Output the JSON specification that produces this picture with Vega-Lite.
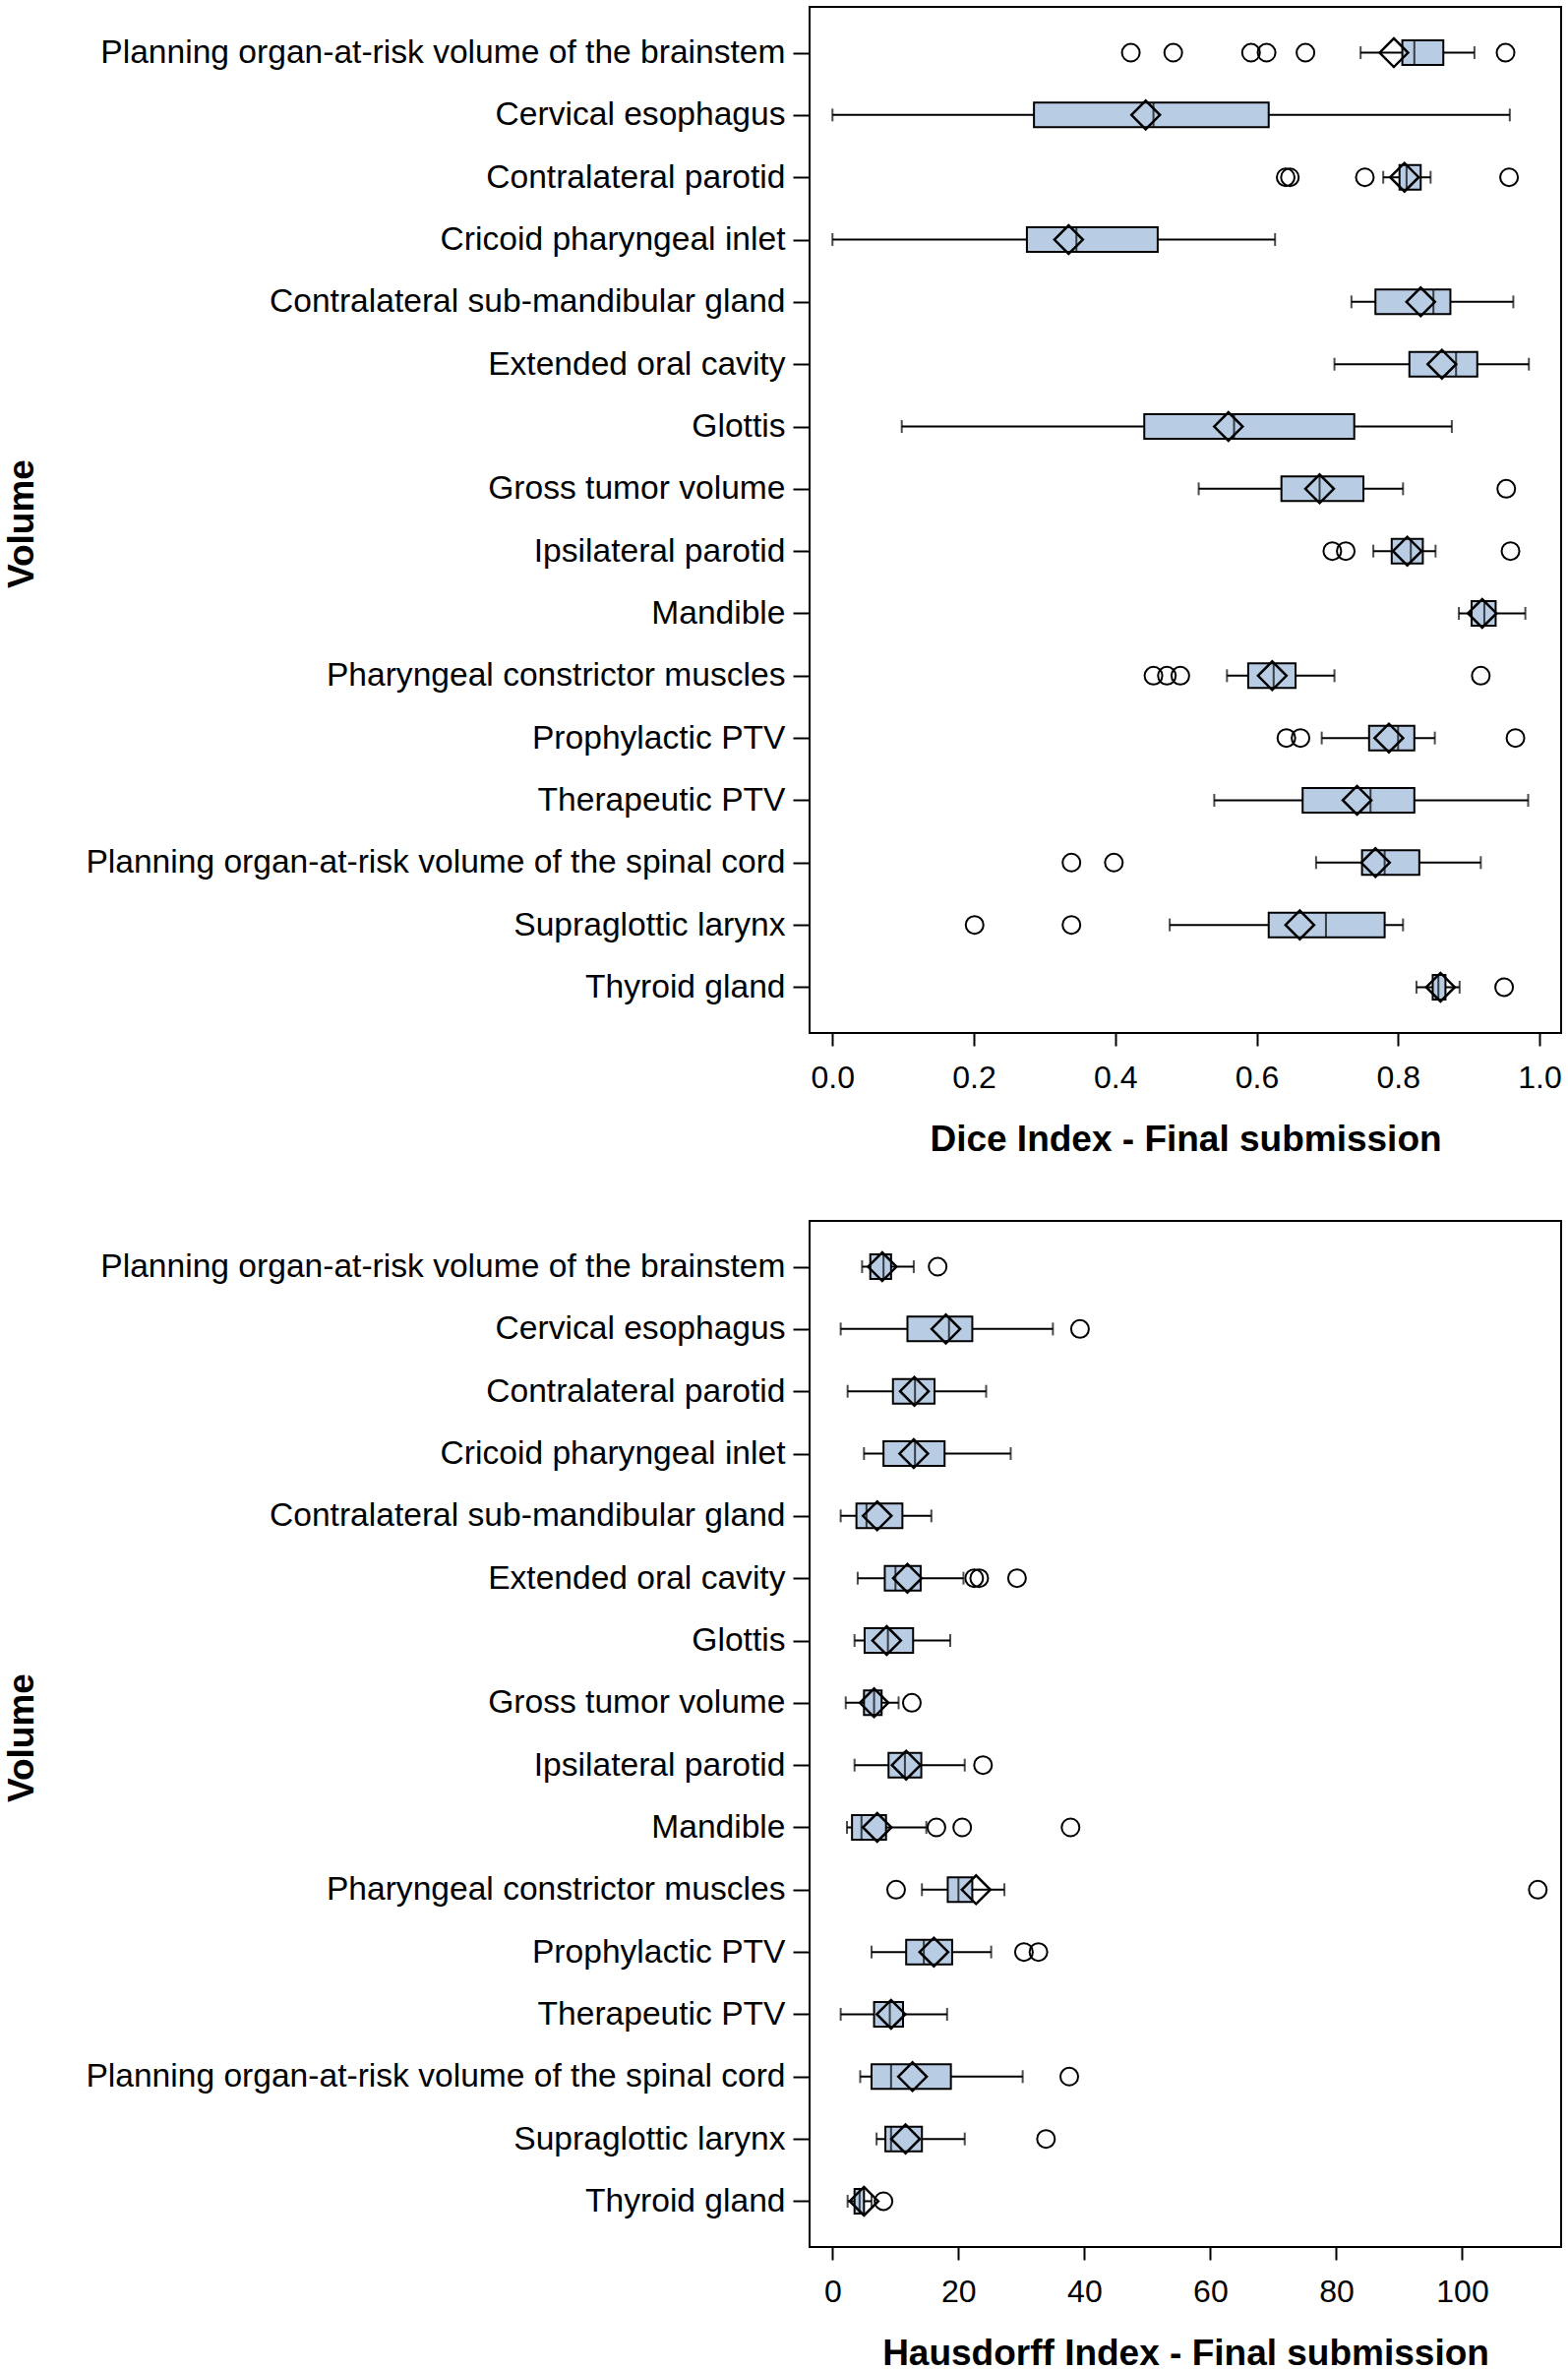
{
  "$schema": "https://vega.github.io/schema/vega-lite/v6.json",
  "background": "white",
  "padding": {"left": 2, "top": 6, "right": 5, "bottom": 0},
  "spacing": 63,
  "config": {
    "font": "Liberation Sans",
    "view": {"stroke": "black", "strokeWidth": 2},
    "axis": {
      "domain": false, "grid": false,
      "tickColor": "black", "tickWidth": 2,
      "labelColor": "black", "titleColor": "black",
      "labelFont": "Liberation Sans", "titleFont": "Liberation Sans",
      "labelFontSize": 33.6, "titleFontSize": 37, "titleFontWeight": "bold",
      "labelOverlap": false, "labelFlush": false
    },
    "axisX": {"tickSize": 13, "labelPadding": 17, "titlePadding": 29, "labelFontSize": 32},
    "axisY": {"tickSize": 17, "labelPadding": 8, "labelLimit": 1000}
  },
  "datasets": {
    "dice": [
      {"name": "Planning organ-at-risk volume of the brainstem", "lo": 0.747, "q1": 0.806, "med": 0.823, "q3": 0.864, "hi": 0.908, "mean": 0.794},
      {"name": "Cervical esophagus", "lo": 0.0, "q1": 0.285, "med": 0.454, "q3": 0.617, "hi": 0.958, "mean": 0.443},
      {"name": "Contralateral parotid", "lo": 0.779, "q1": 0.802, "med": 0.812, "q3": 0.832, "hi": 0.846, "mean": 0.809},
      {"name": "Cricoid pharyngeal inlet", "lo": 0.0, "q1": 0.275, "med": 0.345, "q3": 0.46, "hi": 0.626, "mean": 0.334},
      {"name": "Contralateral sub-mandibular gland", "lo": 0.734, "q1": 0.768, "med": 0.85, "q3": 0.874, "hi": 0.963, "mean": 0.832},
      {"name": "Extended oral cavity", "lo": 0.71, "q1": 0.816, "med": 0.882, "q3": 0.912, "hi": 0.985, "mean": 0.862},
      {"name": "Glottis", "lo": 0.098, "q1": 0.441, "med": 0.568, "q3": 0.738, "hi": 0.876, "mean": 0.56},
      {"name": "Gross tumor volume", "lo": 0.518, "q1": 0.635, "med": 0.689, "q3": 0.751, "hi": 0.807, "mean": 0.689},
      {"name": "Ipsilateral parotid", "lo": 0.765, "q1": 0.791, "med": 0.818, "q3": 0.835, "hi": 0.853, "mean": 0.813},
      {"name": "Mandible", "lo": 0.886, "q1": 0.904, "med": 0.922, "q3": 0.938, "hi": 0.98, "mean": 0.919},
      {"name": "Pharyngeal constrictor muscles", "lo": 0.558, "q1": 0.588, "med": 0.624, "q3": 0.655, "hi": 0.71, "mean": 0.622},
      {"name": "Prophylactic PTV", "lo": 0.692, "q1": 0.759, "med": 0.8, "q3": 0.823, "hi": 0.852, "mean": 0.787},
      {"name": "Therapeutic PTV", "lo": 0.54, "q1": 0.665, "med": 0.761, "q3": 0.823, "hi": 0.984, "mean": 0.742},
      {"name": "Planning organ-at-risk volume of the spinal cord", "lo": 0.684, "q1": 0.749, "med": 0.781, "q3": 0.83, "hi": 0.917, "mean": 0.768},
      {"name": "Supraglottic larynx", "lo": 0.477, "q1": 0.617, "med": 0.698, "q3": 0.781, "hi": 0.807, "mean": 0.661},
      {"name": "Thyroid gland", "lo": 0.826, "q1": 0.849, "med": 0.857, "q3": 0.867, "hi": 0.887, "mean": 0.86}
    ],
    "diceOut": [
      {"name": "Planning organ-at-risk volume of the brainstem", "v": 0.422},
      {"name": "Planning organ-at-risk volume of the brainstem", "v": 0.482},
      {"name": "Planning organ-at-risk volume of the brainstem", "v": 0.592},
      {"name": "Planning organ-at-risk volume of the brainstem", "v": 0.614},
      {"name": "Planning organ-at-risk volume of the brainstem", "v": 0.669},
      {"name": "Planning organ-at-risk volume of the brainstem", "v": 0.952},
      {"name": "Contralateral parotid", "v": 0.641},
      {"name": "Contralateral parotid", "v": 0.647},
      {"name": "Contralateral parotid", "v": 0.753},
      {"name": "Contralateral parotid", "v": 0.957},
      {"name": "Gross tumor volume", "v": 0.953},
      {"name": "Ipsilateral parotid", "v": 0.707},
      {"name": "Ipsilateral parotid", "v": 0.726},
      {"name": "Ipsilateral parotid", "v": 0.959},
      {"name": "Pharyngeal constrictor muscles", "v": 0.454},
      {"name": "Pharyngeal constrictor muscles", "v": 0.473},
      {"name": "Pharyngeal constrictor muscles", "v": 0.492},
      {"name": "Pharyngeal constrictor muscles", "v": 0.917},
      {"name": "Prophylactic PTV", "v": 0.642},
      {"name": "Prophylactic PTV", "v": 0.662},
      {"name": "Prophylactic PTV", "v": 0.966},
      {"name": "Planning organ-at-risk volume of the spinal cord", "v": 0.338},
      {"name": "Planning organ-at-risk volume of the spinal cord", "v": 0.398},
      {"name": "Supraglottic larynx", "v": 0.201},
      {"name": "Supraglottic larynx", "v": 0.338},
      {"name": "Thyroid gland", "v": 0.95}
    ],
    "haus": [
      {"name": "Planning organ-at-risk volume of the brainstem", "lo": 4.7, "q1": 6.0, "med": 8.1, "q3": 9.3, "hi": 12.9, "mean": 7.9},
      {"name": "Cervical esophagus", "lo": 1.3, "q1": 11.9, "med": 18.5, "q3": 22.2, "hi": 35.0, "mean": 18.0},
      {"name": "Contralateral parotid", "lo": 2.4, "q1": 9.6, "med": 13.1, "q3": 16.2, "hi": 24.4, "mean": 13.0},
      {"name": "Cricoid pharyngeal inlet", "lo": 5.0, "q1": 8.1, "med": 13.1, "q3": 17.8, "hi": 28.3, "mean": 12.9},
      {"name": "Contralateral sub-mandibular gland", "lo": 1.3, "q1": 3.8, "med": 5.4, "q3": 11.1, "hi": 15.7, "mean": 7.1},
      {"name": "Extended oral cavity", "lo": 4.0, "q1": 8.3, "med": 10.0, "q3": 14.0, "hi": 20.8, "mean": 11.9},
      {"name": "Glottis", "lo": 3.5, "q1": 5.1, "med": 8.8, "q3": 12.8, "hi": 18.7, "mean": 8.6},
      {"name": "Gross tumor volume", "lo": 2.1, "q1": 5.0, "med": 6.6, "q3": 7.8, "hi": 10.5, "mean": 6.6},
      {"name": "Ipsilateral parotid", "lo": 3.5, "q1": 8.9, "med": 11.5, "q3": 14.1, "hi": 21.0, "mean": 11.7},
      {"name": "Mandible", "lo": 2.3, "q1": 3.1, "med": 4.6, "q3": 8.5, "hi": 14.9, "mean": 7.1},
      {"name": "Pharyngeal constrictor muscles", "lo": 14.2, "q1": 18.3, "med": 20.0, "q3": 22.2, "hi": 27.3, "mean": 22.8},
      {"name": "Prophylactic PTV", "lo": 6.2, "q1": 11.7, "med": 14.5, "q3": 19.0, "hi": 25.2, "mean": 16.1},
      {"name": "Therapeutic PTV", "lo": 1.3, "q1": 6.6, "med": 9.1, "q3": 11.2, "hi": 18.2, "mean": 9.3},
      {"name": "Planning organ-at-risk volume of the spinal cord", "lo": 4.4, "q1": 6.2, "med": 9.3, "q3": 18.8, "hi": 30.2, "mean": 12.7},
      {"name": "Supraglottic larynx", "lo": 7.0, "q1": 8.4, "med": 9.3, "q3": 14.2, "hi": 21.0, "mean": 11.6},
      {"name": "Thyroid gland", "lo": 2.4, "q1": 3.5, "med": 4.3, "q3": 5.0, "hi": 6.2, "mean": 5.0}
    ],
    "hausOut": [
      {"name": "Planning organ-at-risk volume of the brainstem", "v": 16.7},
      {"name": "Cervical esophagus", "v": 39.3},
      {"name": "Extended oral cavity", "v": 22.5},
      {"name": "Extended oral cavity", "v": 23.3},
      {"name": "Extended oral cavity", "v": 29.3},
      {"name": "Gross tumor volume", "v": 12.6},
      {"name": "Ipsilateral parotid", "v": 23.9},
      {"name": "Mandible", "v": 16.5},
      {"name": "Mandible", "v": 20.6},
      {"name": "Mandible", "v": 37.8},
      {"name": "Pharyngeal constrictor muscles", "v": 10.1},
      {"name": "Pharyngeal constrictor muscles", "v": 112.0},
      {"name": "Prophylactic PTV", "v": 30.4},
      {"name": "Prophylactic PTV", "v": 32.7},
      {"name": "Planning organ-at-risk volume of the spinal cord", "v": 37.6},
      {"name": "Supraglottic larynx", "v": 33.9},
      {"name": "Thyroid gland", "v": 8.1}
    ]
  },
  "vconcat": [
    {
      "width": 764, "height": 1043,
      "encoding": {
        "y": {"field": "name", "type": "nominal", "title": "Volume",
          "axis": {"labelLimit": 1000, "titleX": -801, "titleY": 525, "titleAngle": 270, "titleAlign": "center", "titleBaseline": "middle"},
          "scale": {"type": "point", "padding": 0.735, "domain": ["Planning organ-at-risk volume of the brainstem","Cervical esophagus","Contralateral parotid","Cricoid pharyngeal inlet","Contralateral sub-mandibular gland","Extended oral cavity","Glottis","Gross tumor volume","Ipsilateral parotid","Mandible","Pharyngeal constrictor muscles","Prophylactic PTV","Therapeutic PTV","Planning organ-at-risk volume of the spinal cord","Supraglottic larynx","Thyroid gland"]}}
      },
      "layer": [
        {"data": {"name": "dice"}, "mark": {"type": "rule", "color": "black", "strokeWidth": 2},
          "encoding": {"x": {"field": "lo", "type": "quantitative", "title": "Dice Index - Final submission", "scale": {"domain": [-0.0324, 1.0306], "nice": false, "zero": false}, "axis": {"values": [0, 0.2, 0.4, 0.6, 0.8, 1.0], "format": ".1f"}}, "x2": {"field": "hi"}}},
        {"data": {"name": "dice"}, "mark": {"type": "tick", "color": "black", "thickness": 2, "size": 13, "orient": "vertical"},
          "encoding": {"x": {"field": "lo", "type": "quantitative", "title": "Dice Index - Final submission", "scale": {"domain": [-0.0324, 1.0306], "nice": false, "zero": false}}}},
        {"data": {"name": "dice"}, "mark": {"type": "tick", "color": "black", "thickness": 2, "size": 13, "orient": "vertical"},
          "encoding": {"x": {"field": "hi", "type": "quantitative", "title": "Dice Index - Final submission", "scale": {"domain": [-0.0324, 1.0306], "nice": false, "zero": false}}}},
        {"data": {"name": "dice"}, "mark": {"type": "bar", "size": 25, "fill": "#b8cce4", "stroke": "black", "strokeWidth": 2},
          "encoding": {"x": {"field": "q1", "type": "quantitative", "title": "Dice Index - Final submission", "scale": {"domain": [-0.0324, 1.0306], "nice": false, "zero": false}}, "x2": {"field": "q3"}}},
        {"data": {"name": "dice"}, "mark": {"type": "tick", "color": "black", "thickness": 2, "size": 25, "orient": "vertical"},
          "encoding": {"x": {"field": "med", "type": "quantitative", "title": "Dice Index - Final submission", "scale": {"domain": [-0.0324, 1.0306], "nice": false, "zero": false}}}},
        {"data": {"name": "dice"}, "mark": {"type": "point", "shape": "diamond", "size": 840, "filled": false, "stroke": "black", "strokeWidth": 2.5, "opacity": 1},
          "encoding": {"x": {"field": "mean", "type": "quantitative", "title": "Dice Index - Final submission", "scale": {"domain": [-0.0324, 1.0306], "nice": false, "zero": false}}}},
        {"data": {"name": "diceOut"}, "mark": {"type": "point", "shape": "circle", "size": 324, "filled": false, "stroke": "black", "strokeWidth": 2, "opacity": 1},
          "encoding": {"x": {"field": "v", "type": "quantitative", "title": "Dice Index - Final submission", "scale": {"domain": [-0.0324, 1.0306], "nice": false, "zero": false}}}}
      ]
    },
    {
      "width": 764, "height": 1043,
      "encoding": {
        "y": {"field": "name", "type": "nominal", "title": "Volume",
          "axis": {"labelLimit": 1000, "titleX": -801, "titleY": 525, "titleAngle": 270, "titleAlign": "center", "titleBaseline": "middle"},
          "scale": {"type": "point", "padding": 0.735, "domain": ["Planning organ-at-risk volume of the brainstem","Cervical esophagus","Contralateral parotid","Cricoid pharyngeal inlet","Contralateral sub-mandibular gland","Extended oral cavity","Glottis","Gross tumor volume","Ipsilateral parotid","Mandible","Pharyngeal constrictor muscles","Prophylactic PTV","Therapeutic PTV","Planning organ-at-risk volume of the spinal cord","Supraglottic larynx","Thyroid gland"]}}
      },
      "layer": [
        {"data": {"name": "haus"}, "mark": {"type": "rule", "color": "black", "strokeWidth": 2},
          "encoding": {"x": {"field": "lo", "type": "quantitative", "title": "Hausdorff Index - Final submission", "scale": {"domain": [-3.64, 115.7], "nice": false, "zero": false}, "axis": {"values": [0, 20, 40, 60, 80, 100]}}, "x2": {"field": "hi"}}},
        {"data": {"name": "haus"}, "mark": {"type": "tick", "color": "black", "thickness": 2, "size": 13, "orient": "vertical"},
          "encoding": {"x": {"field": "lo", "type": "quantitative", "title": "Hausdorff Index - Final submission", "scale": {"domain": [-3.64, 115.7], "nice": false, "zero": false}}}},
        {"data": {"name": "haus"}, "mark": {"type": "tick", "color": "black", "thickness": 2, "size": 13, "orient": "vertical"},
          "encoding": {"x": {"field": "hi", "type": "quantitative", "title": "Hausdorff Index - Final submission", "scale": {"domain": [-3.64, 115.7], "nice": false, "zero": false}}}},
        {"data": {"name": "haus"}, "mark": {"type": "bar", "size": 25, "fill": "#b8cce4", "stroke": "black", "strokeWidth": 2},
          "encoding": {"x": {"field": "q1", "type": "quantitative", "title": "Hausdorff Index - Final submission", "scale": {"domain": [-3.64, 115.7], "nice": false, "zero": false}}, "x2": {"field": "q3"}}},
        {"data": {"name": "haus"}, "mark": {"type": "tick", "color": "black", "thickness": 2, "size": 25, "orient": "vertical"},
          "encoding": {"x": {"field": "med", "type": "quantitative", "title": "Hausdorff Index - Final submission", "scale": {"domain": [-3.64, 115.7], "nice": false, "zero": false}}}},
        {"data": {"name": "haus"}, "mark": {"type": "point", "shape": "diamond", "size": 840, "filled": false, "stroke": "black", "strokeWidth": 2.5, "opacity": 1},
          "encoding": {"x": {"field": "mean", "type": "quantitative", "title": "Hausdorff Index - Final submission", "scale": {"domain": [-3.64, 115.7], "nice": false, "zero": false}}}},
        {"data": {"name": "hausOut"}, "mark": {"type": "point", "shape": "circle", "size": 324, "filled": false, "stroke": "black", "strokeWidth": 2, "opacity": 1},
          "encoding": {"x": {"field": "v", "type": "quantitative", "title": "Hausdorff Index - Final submission", "scale": {"domain": [-3.64, 115.7], "nice": false, "zero": false}}}}
      ]
    }
  ]
}
